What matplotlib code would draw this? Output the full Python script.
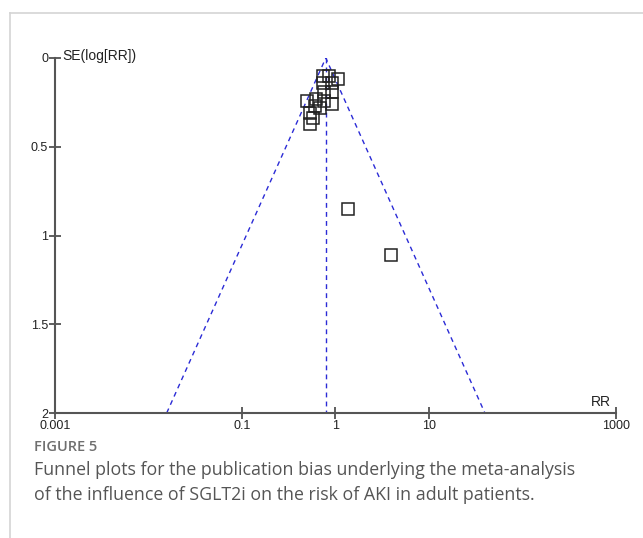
import numpy as np
import matplotlib
matplotlib.use("Agg")
import matplotlib.pyplot as plt
from matplotlib.lines import Line2D

# ---- data ----
rr = [0.73, 0.86, 1.06, 0.73, 0.92, 0.76, 0.93, 0.50, 0.62, 0.76, 0.93,
      0.69, 0.53, 0.58, 0.53, 0.61, 1.36, 3.95]
se = [0.10, 0.10, 0.12, 0.14, 0.14, 0.19, 0.19, 0.24, 0.23, 0.24, 0.26,
      0.28, 0.31, 0.34, 0.37, 0.27, 0.85, 1.11]
pooled_rr = 0.79
x_ticks = [0.001, 0.1, 1, 10, 1000]
x_tick_labels = ["0.001", "0.1", "1", "10", "1000"]
y_ticks = [0, 0.5, 1, 1.5, 2]
y_tick_labels = ["0", "0.5", "1", "1.5", "2"]
caption_title = "FIGURE 5"
caption_lines = ["Funnel plots for the publication bias underlying the meta-analysis",
                 "of the influence of SGLT2i on the risk of AKI in adult patients."]

W, H = 643, 538
fig = plt.figure(figsize=(W / 100, H / 100), dpi=100)
fig.patch.set_facecolor("white")

# card border
fig.add_artist(Line2D([10 / W, 1], [1 - 13 / H, 1 - 13 / H], color="#d4d4d4", lw=1.2))
fig.add_artist(Line2D([10 / W, 10 / W], [0, 1 - 13 / H], color="#d4d4d4", lw=1.2))

ax = fig.add_axes([55 / W, 1 - 413 / H, (615.7 - 55) / W, (413 - 58) / H])
ax.set_xscale("log")
ax.set_xlim(0.001, 1000)
ax.set_ylim(2, 0)

# funnel
se_max = 2.0
ax.plot([pooled_rr, pooled_rr], [0, se_max], color="#2b2bd6", lw=1.0, ls=(0, (3.5, 3)))
ax.plot([pooled_rr * np.exp(-1.96 * se_max), pooled_rr, pooled_rr * np.exp(1.96 * se_max)],
        [se_max, 0, se_max], color="#2b2bd6", lw=1.0, ls=(0, (3.5, 3)))

ax.plot(rr, se, ls="none", marker="s", markersize=8, markerfacecolor="none",
        markeredgecolor="#222222", markeredgewidth=1.1, clip_on=False)

for s in ["top", "right"]:
    ax.spines[s].set_visible(False)
for s in ["left", "bottom"]:
    ax.spines[s].set_color("#555555")
    ax.spines[s].set_linewidth(1.5)

ax.set_xticks(x_ticks)
ax.set_xticklabels(x_tick_labels)
ax.xaxis.set_minor_locator(matplotlib.ticker.NullLocator())
ax.set_yticks(y_ticks)
ax.set_yticklabels(y_tick_labels)
ax.tick_params(direction="inout", length=8, width=1.1, color="#333333",
               labelsize=9, labelcolor="#222222", pad=1)
for lab in ax.get_xticklabels() + ax.get_yticklabels():
    lab.set_family(["Liberation Sans", "DejaVu Sans"])

ax.text(0.0012, 0.03, "SE(log[RR])", fontsize=10, family=["Liberation Sans", "DejaVu Sans"],
        color="#222222", ha="left", va="bottom")
ax.text(700, 1.98, "RR", fontsize=10, family=["Liberation Sans", "DejaVu Sans"],
        color="#222222", ha="center", va="bottom")

fig.text(34 / W, 1 - 447 / H, caption_title, fontsize=10.5, family=["Open Sans", "DejaVu Sans"],
         fontweight="semibold", color="#6f6f6f", ha="left", va="center")
for i, line in enumerate(caption_lines):
    fig.text(34 / W, 1 - (470 + 25 * i) / H, line, fontsize=12.8,
             family=["Open Sans", "DejaVu Sans"], color="#555555", ha="left", va="center")

fig.savefig("out.png", dpi=100, facecolor="white")
